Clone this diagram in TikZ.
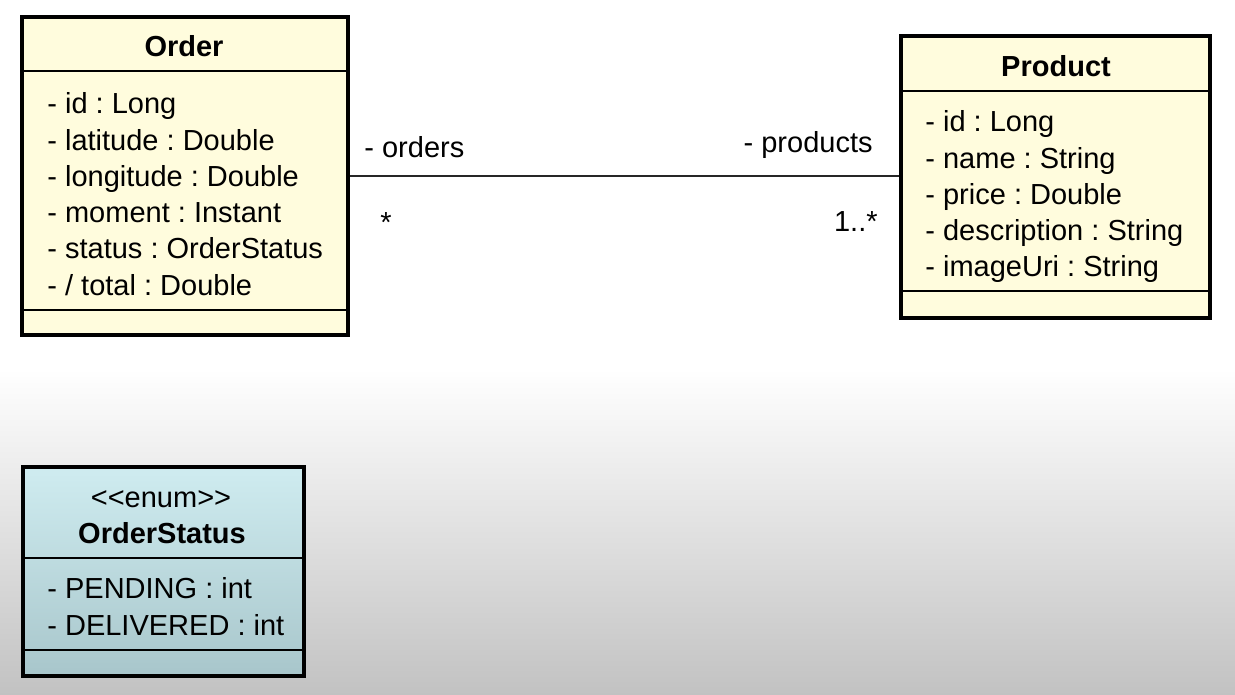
\documentclass[tikz,border=0pt]{standalone}
\usepackage{fontspec}
\setmainfont{Liberation Sans}
\usetikzlibrary{positioning}
\definecolor{classyellow}{RGB}{255,252,221}
\definecolor{enumtop}{RGB}{207,236,240}
\definecolor{enumbottom}{RGB}{168,198,203}
\definecolor{fadegray}{RGB}{194,194,194}
\frenchspacing

\begin{document}
\begin{tikzpicture}[x=0.5pt,y=-0.5pt,font=\fontsize{14.5}{18}\selectfont,
	classbox/.style={draw,line width=2pt,fill=classyellow,anchor=north west,inner sep=0pt},
	enumbox/.style={draw,line width=2pt,top color=enumtop,bottom color=enumbottom,anchor=north west,inner sep=0pt},
	sepline/.style={line width=1pt},
	assoc/.style={line width=1pt,black!85},
	attr/.style={anchor=base west,inner sep=0pt},
	title/.style={anchor=base,inner sep=0pt,font=\fontsize{14.5}{18}\selectfont\bfseries},
	role/.style={inner sep=0pt}]
	%% background
	\fill[white] (0,0) rectangle (1235,370);
	\shade[top color=white,bottom color=fadegray] (0,369) rectangle (1235,695);
	\useasboundingbox (0,0) rectangle (1235,695);
	%% classes
	\node[classbox,minimum width=163pt,minimum height=159pt] (order) at (20,15) {};
	\node[classbox,minimum width=154.5pt,minimum height=141pt] (product) at (899,34) {};
	\node[enumbox,minimum width=140.5pt,minimum height=104.5pt] (status) at (21,465) {};
	\draw[sepline] (order.west |- 0,71) -- (order.east |- 0,71);
	\draw[sepline] (order.west |- 0,310) -- (order.east |- 0,310);
	\draw[sepline] (product.west |- 0,91) -- (product.east |- 0,91);
	\draw[sepline] (product.west |- 0,291) -- (product.east |- 0,291);
	\draw[sepline] (status.west |- 0,558) -- (status.east |- 0,558);
	\draw[sepline] (status.west |- 0,650) -- (status.east |- 0,650);
	%% names
	\node[title] (ordername) at (184,57) {Order};
	\node[title] (productname) at (1056,77) {Product};
	\node[anchor=base,inner sep=0pt] (statustag) at (161,507) {<\kern0pt<enum>\kern0pt>};
	\node[title] (statusname) at (162,543) {OrderStatus};
	%% attributes
	\foreach \txt [count=\i from 0] in {- id : Long,- latitude : Double,- longitude : Double,- moment : Instant,- status : OrderStatus,- / total : Double}
		\node[attr] (orderattr\i) at (47,114+36.2*\i) {\txt};
	\foreach \txt [count=\i from 0] in {- id : Long,- name : String,- price : Double,- description : String,- imageUri : String}
		\node[attr] (productattr\i) at (925,132+36.2*\i) {\txt};
	\foreach \txt [count=\i from 0] in {- PENDING : int,- DELIVERED : int}
		\node[attr] (statusattr\i) at (47,598+37.5*\i) {\txt};
	%% association
	\draw[assoc] (order.east) -- (order.east -| product.west);
	\node[role,anchor=base west] (ordersrole) at (364,158) {- orders};
	\node[role,anchor=base] (ordersmult) at (386,233) {*};
	\node[role,anchor=base east] (productsrole) at (873,153) {- products};
	\node[role,anchor=base east] (productsmult) at (878,232) {1..*};
\end{tikzpicture}
\end{document}
